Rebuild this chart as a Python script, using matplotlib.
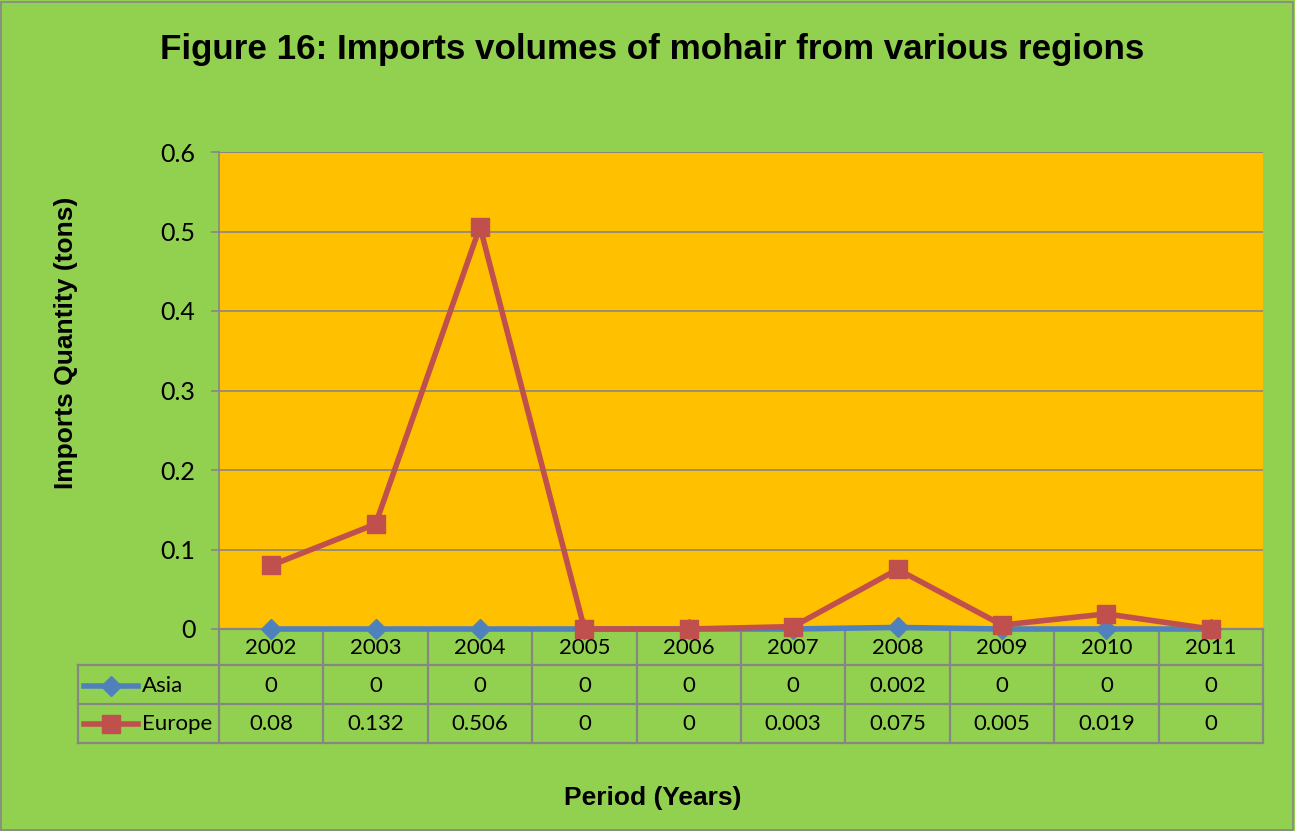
import matplotlib
matplotlib.use("Agg")
import matplotlib.pyplot as plt
import matplotlib.transforms as mtransforms
from matplotlib.patches import Rectangle
from matplotlib.lines import Line2D

years = ["2002", "2003", "2004", "2005", "2006", "2007", "2008", "2009", "2010", "2011"]
asia = [0, 0, 0, 0, 0, 0, 0.002, 0, 0, 0]
europe = [0.08, 0.132, 0.506, 0, 0, 0.003, 0.075, 0.005, 0.019, 0]
asia_labels = ["0", "0", "0", "0", "0", "0", "0.002", "0", "0", "0"]
europe_labels = ["0.08", "0.132", "0.506", "0", "0", "0.003", "0.075", "0.005", "0.019", "0"]
yticks = [0, 0.1, 0.2, 0.3, 0.4, 0.5, 0.6]
ytick_labels = ["0", "0.1", "0.2", "0.3", "0.4", "0.5", "0.6"]

W, H = 1295, 831
GREEN = "#92D050"
ORANGE = "#FFC000"
GRID = "#868686"
RED = "#C0504D"
BLUE = "#4F81BD"
TFONT = "Lato"
TSIZE = 16

fig = plt.figure(figsize=(W / 100, H / 100), dpi=100)
fig.patch.set_facecolor(GREEN)
fig.patches.append(Rectangle((1 / W, 1 / H), 1 - 3 / W, 1 - 3 / H, transform=fig.transFigure,
                             fill=False, edgecolor=GRID, linewidth=1.2))

def px(x, y):
    return x / W, 1 - y / H

L, R, T, B = 219, 1263, 152, 629
ax = fig.add_axes([L / W, 1 - B / H, (R - L) / W, (B - T) / H])
ax.set_facecolor(ORANGE)
x = list(range(len(years)))
ax.set_xlim(-0.5, len(years) - 0.5)
ax.set_ylim(0, 0.6)
ax.set_yticks(yticks)
ax.set_yticklabels(ytick_labels, fontsize=18, family=TFONT)
ax.tick_params(axis="y", length=6, width=1.2, color=GRID, pad=11, direction="out")
ax.set_xticks([])
ax.grid(axis="y", color=GRID, linewidth=1.2, zorder=1)
ax.set_axisbelow(True)
for s in ["top", "right", "bottom"]:
    ax.spines[s].set_visible(False)
ax.spines["left"].set_color(GRID)
ax.spines["left"].set_linewidth(1.2)
ax.axhline(0.6, color=GRID, linewidth=1.2, zorder=1)

ax.plot(x, asia, color=BLUE, linewidth=4, marker="D", markersize=10, markerfacecolor=BLUE,
        markeredgecolor=BLUE, zorder=3, clip_on=False)
ax.plot(x, europe, color=RED, linewidth=4, marker="s", markersize=13.5, markerfacecolor=RED,
        markeredgecolor=RED, zorder=4, clip_on=False)

# data table below the axes
trans = mtransforms.blended_transform_factory(ax.transData, ax.transAxes)
hpx = B - T
def yf(ypix):
    return (B - ypix) / hpx
row_lines = [629, 665, 704, 743]
xleft = -0.5 - (L - 78) / ((R - L) / len(years))
lw = 1.6
ax.add_line(Line2D([-0.5, len(years) - 0.5], [yf(629)] * 2, transform=trans, color=GRID, lw=lw, clip_on=False, zorder=2))
for yp in row_lines[1:]:
    ax.add_line(Line2D([xleft, len(years) - 0.5], [yf(yp)] * 2, transform=trans, color=GRID, lw=lw, clip_on=False, zorder=2))
for i in range(len(years) + 1):
    ax.add_line(Line2D([i - 0.5] * 2, [yf(629), yf(743)], transform=trans, color=GRID, lw=lw, clip_on=False, zorder=2))
ax.add_line(Line2D([xleft] * 2, [yf(665), yf(743)], transform=trans, color=GRID, lw=lw, clip_on=False, zorder=2))

for i in x:
    ax.text(i, yf(648), years[i], transform=trans, ha="center", va="center", fontsize=TSIZE, family=TFONT)
    ax.text(i, yf(686), asia_labels[i], transform=trans, ha="center", va="center", fontsize=TSIZE, family=TFONT)
    ax.text(i, yf(724), europe_labels[i], transform=trans, ha="center", va="center", fontsize=TSIZE, family=TFONT)

# legend keys in table
fig.add_artist(Line2D([84 / W, 138 / W], [1 - 686 / H] * 2, color=BLUE, lw=4, marker=None))
fig.add_artist(Line2D([111 / W], [1 - 686 / H], color=BLUE, marker="D", markersize=10, markeredgecolor=BLUE))
fig.add_artist(Line2D([84 / W, 138 / W], [1 - 724 / H] * 2, color=RED, lw=4, marker=None))
fig.add_artist(Line2D([111 / W], [1 - 724 / H], color=RED, marker="s", markersize=13.5, markeredgecolor=RED))
fig.text(*px(142, 686), "Asia", ha="left", va="center", fontsize=TSIZE, family=TFONT)
fig.text(*px(142, 724), "Europe", ha="left", va="center", fontsize=TSIZE, family=TFONT)

fig.text(*px(652, 50), "Figure 16: Imports volumes of mohair from various regions", ha="center", va="center",
         fontsize=25.2, fontweight="bold", family="Liberation Sans")
fig.text(*px(66, 343), "Imports Quantity (tons)", ha="center", va="center", rotation=90,
         fontsize=19, fontweight="bold", family="Liberation Sans")
fig.text(*px(653, 798), "Period (Years)", ha="center", va="center",
         fontsize=19, fontweight="bold", family="Liberation Sans")

fig.savefig("out.png", dpi=100, facecolor=GREEN)
